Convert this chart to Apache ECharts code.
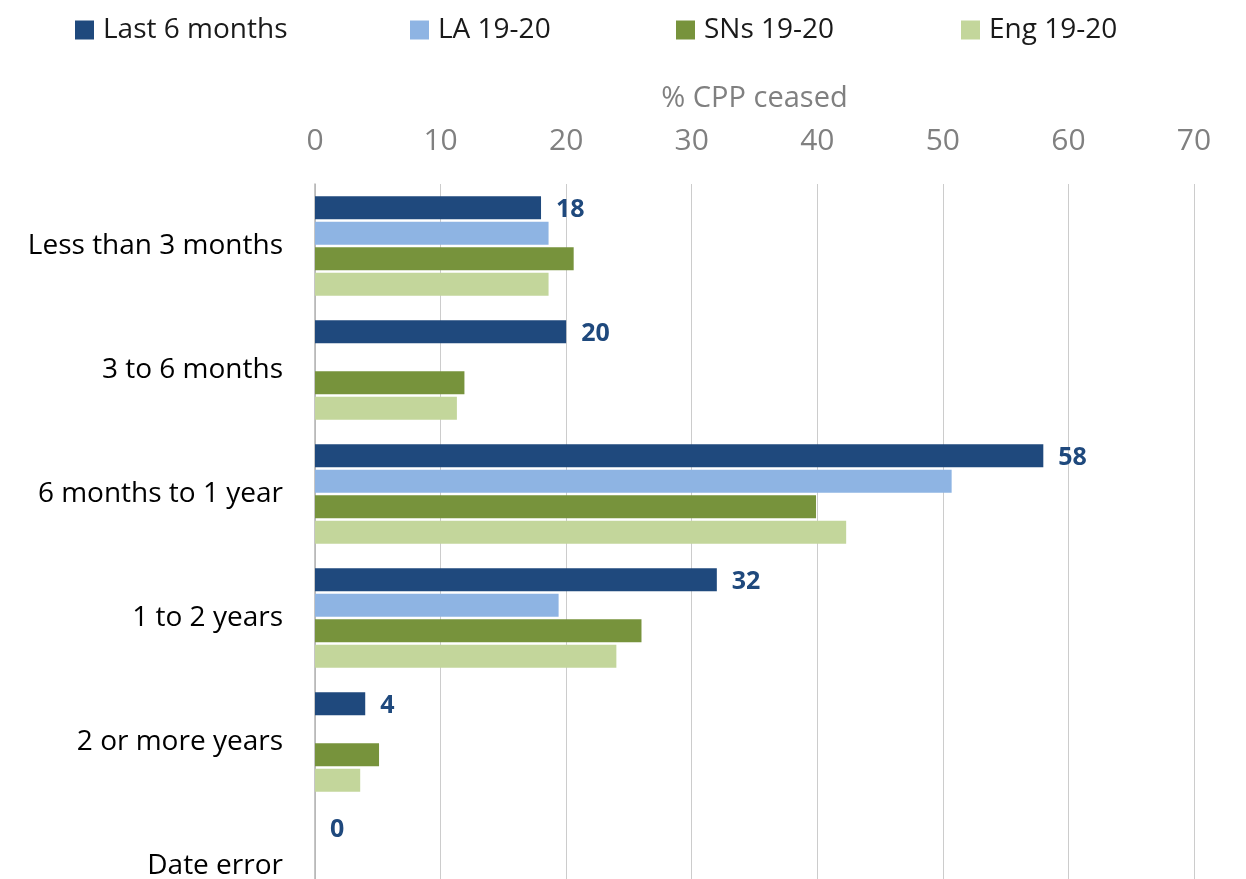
<!DOCTYPE html>
<html>
<head>
<meta charset="utf-8">
<script src="https://cdn.jsdelivr.net/npm/echarts@6/dist/echarts.min.js"></script>
<style>
html,body{margin:0;padding:0;background:#fff;overflow:hidden;}
#chart{width:1246px;height:879px;}
</style>
</head>
<body>
<div id="chart"></div>
<script>
var categories = ['Less than 3 months', '3 to 6 months', '6 months to 1 year', '1 to 2 years', '2 or more years', 'Date error'];
var seriesNames = ['Last 6 months', 'LA 19-20', 'SNs 19-20', 'Eng 19-20'];
var last6Months = [18, 20, 58, 32, 4, 0];
var la1920 = [18.6, null, 50.7, 19.4, null, null];
var sns1920 = [20.6, 11.9, 39.9, 26.0, 5.1, null];
var eng1920 = [18.6, 11.3, 42.3, 24.0, 3.6, null];
var xTicks = [0, 10, 20, 30, 40, 50, 60, 70];

var colors = ['#1F497D', '#8EB4E3', '#77933C', '#C3D69B'];
var FONT = 'Open Sans';
var seriesData = [last6Months, la1920, sns1920, eng1920];
var legendLefts = [75, 410, 676, 961];

var chart = echarts.init(document.getElementById('chart'), null, {renderer: 'canvas'});

var legends = seriesNames.map(function (n, i) {
  return {
    data: [n],
    left: legendLefts[i],
    top: 14,
    padding: 0,
    itemWidth: 19,
    itemHeight: 19,
    icon: 'rect',
    selectedMode: false,
    textStyle: {fontFamily: FONT, fontSize: 28, color: '#1a1a1a', lineHeight: 29, padding: [3, 0, 0, 4]}
  };
});

var series = seriesNames.map(function (n, i) {
  var s = {
    name: n,
    type: 'bar',
    data: seriesData[i],
    barWidth: 23,
    barGap: '11%',
    itemStyle: {color: colors[i]},
    emphasis: {disabled: true}
  };
  if (i === 0) {
    s.label = {
      show: true,
      position: 'right',
      distance: 15,
      offset: [0, 2],
      fontFamily: FONT,
      fontSize: 25,
      fontWeight: 'bold',
      color: '#1F497D'
    };
  }
  return s;
});

chart.setOption({
  animation: false,
  color: colors,
  legend: legends,
  grid: {left: 315, right: 52, top: 184, height: 744, containLabel: false, outerBoundsMode: 'none'},
  xAxis: {
    type: 'value',
    position: 'top',
    min: xTicks[0],
    max: xTicks[xTicks.length - 1],
    interval: 10,
    name: '% CPP ceased',
    nameLocation: 'middle',
    nameGap: 71,
    nameTextStyle: {fontFamily: FONT, fontSize: 29, color: '#808080'},
    axisLine: {show: false},
    axisTick: {show: false},
    axisLabel: {fontFamily: FONT, fontSize: 30, color: '#808080', margin: 28},
    splitLine: {show: true, lineStyle: {color: '#cccccc', width: 1}}
  },
  yAxis: {
    type: 'category',
    data: categories,
    inverse: true,
    axisLine: {show: true, lineStyle: {color: '#b3b3b3', width: 1.5}},
    axisTick: {show: false},
    axisLabel: {fontFamily: FONT, fontSize: 28, color: '#000000', margin: 32, padding: [4, 0, 0, 0]}
  },
  series: series
});
</script>
</body>
</html>
